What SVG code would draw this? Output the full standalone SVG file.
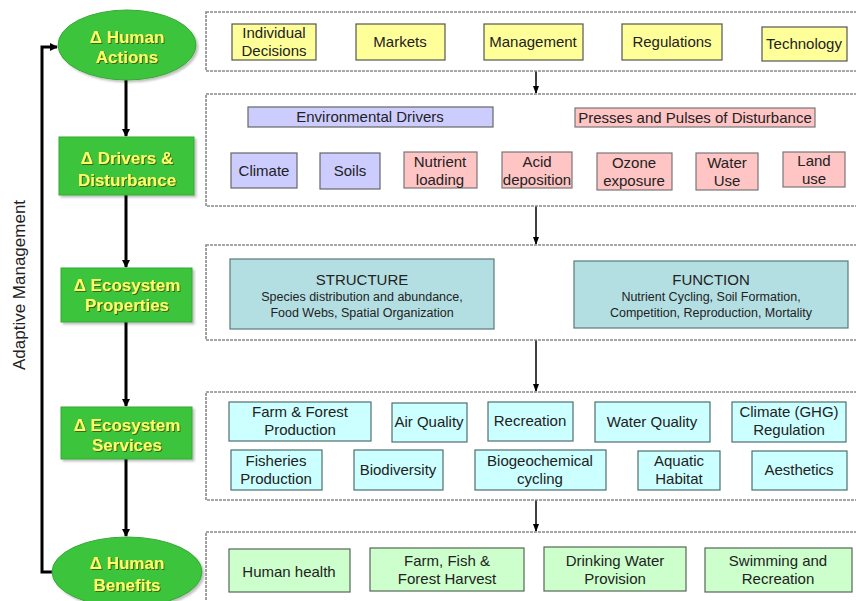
<svg xmlns="http://www.w3.org/2000/svg" width="856" height="601" viewBox="0 0 856 601">
<defs>
<marker id="ah" markerWidth="8" markerHeight="8" refX="7" refY="4" orient="auto" markerUnits="userSpaceOnUse"><path d="M0,0 L8,4 L0,8 Z" fill="#000"/></marker>
<marker id="ahs" markerWidth="8" markerHeight="8" refX="7" refY="4" orient="auto" markerUnits="userSpaceOnUse"><path d="M0,1 L8,4 L0,7 Z" fill="#000"/></marker>
<filter id="ts" x="-10%" y="-10%" width="130%" height="140%"><feDropShadow dx="1" dy="1" stdDeviation="0.4" flood-color="#3a5a10" flood-opacity="0.9"/></filter>
<filter id="bs" x="-5%" y="-5%" width="115%" height="120%"><feDropShadow dx="2" dy="2" stdDeviation="1" flood-color="#000" flood-opacity="0.25"/></filter>
</defs>
<style>
text{font-family:"Liberation Sans",Arial,sans-serif;text-anchor:middle;fill:#222}
.lt{font-size:17px;font-weight:bold;fill:#ffff66}
.g{fill:#3ec43e;stroke:#35a835;stroke-width:1}
.panel{fill:#fff;stroke:#8a8a8a;stroke-width:1.6;stroke-dasharray:3 1}
.y{fill:#ffff99;stroke:#555;stroke-width:1.2}
.lv{fill:#ccccff;stroke:#666;stroke-width:1.2}
.pk{fill:#ffc4c4;stroke:#777;stroke-width:1.2}
.tl{fill:#b4dfe2;stroke:#5a7a7a;stroke-width:1.2}
.cy{fill:#ccffff;stroke:#4f6f6f;stroke-width:1.2}
.lg{fill:#ccffcc;stroke:#556655;stroke-width:1.2}
.t{font-size:15px}
.s{font-size:12.5px}
.thick{stroke:#000;stroke-width:3;fill:none}
.thin{stroke:#000;stroke-width:1.5;fill:none}
</style>
<rect width="856" height="601" fill="#fff"/>

<g id="connectors">
<line class="thick" x1="126" y1="80" x2="126" y2="136" marker-end="url(#ah)"/>
<line class="thick" x1="126" y1="195" x2="126" y2="267" marker-end="url(#ah)"/>
<line class="thick" x1="126" y1="322" x2="126" y2="406" marker-end="url(#ah)"/>
<line class="thick" x1="126" y1="459" x2="126" y2="536" marker-end="url(#ah)"/>
<polyline class="thick" points="53,572 42,572 42,47 57,47" marker-end="url(#ah)"/>
<line class="thin" x1="536" y1="71" x2="536" y2="93" marker-end="url(#ahs)"/>
<line class="thin" x1="536" y1="206" x2="536" y2="244" marker-end="url(#ahs)"/>
<line class="thin" x1="536" y1="340" x2="536" y2="391" marker-end="url(#ahs)"/>
<line class="thin" x1="536" y1="500" x2="536" y2="531" marker-end="url(#ahs)"/>
</g>

<text x="25" y="285" transform="rotate(-90 25 285)" style="font-size:17px">Adaptive Management</text>

<g id="n-human-actions">
<ellipse class="g" cx="127" cy="45" rx="69" ry="35" filter="url(#bs)"/>
<text class="lt" x="127" y="43" filter="url(#ts)">Δ Human</text>
<text class="lt" x="127" y="63" filter="url(#ts)">Actions</text>
</g>
<g id="n-drivers">
<rect class="g" x="59" y="137" width="135" height="58" filter="url(#bs)"/>
<text class="lt" x="127" y="164" filter="url(#ts)">Δ Drivers &amp;</text>
<text class="lt" x="127" y="186" filter="url(#ts)">Disturbance</text>
</g>
<g id="n-properties">
<rect class="g" x="61" y="268" width="131" height="54" filter="url(#bs)"/>
<text class="lt" x="127" y="291" filter="url(#ts)">Δ Ecosystem</text>
<text class="lt" x="127" y="311" filter="url(#ts)">Properties</text>
</g>
<g id="n-services">
<rect class="g" x="61" y="407" width="131" height="52" filter="url(#bs)"/>
<text class="lt" x="127" y="431" filter="url(#ts)">Δ Ecosystem</text>
<text class="lt" x="127" y="451" filter="url(#ts)">Services</text>
</g>
<g id="n-human-benefits">
<ellipse class="g" cx="127" cy="572" rx="75" ry="35" filter="url(#bs)"/>
<text class="lt" x="127" y="569" filter="url(#ts)">Δ Human</text>
<text class="lt" x="127" y="591" filter="url(#ts)">Benefits</text>
</g>

<g id="p-actions">
<rect class="panel" x="206" y="12" width="670" height="59"/>
<g id="b-individual"><rect class="y" x="232" y="24" width="84" height="36"/><text class="t" x="274" y="38">Individual</text><text class="t" x="274" y="56">Decisions</text></g>
<g id="b-markets"><rect class="y" x="356" y="24" width="89" height="36"/><text class="t" x="400" y="47">Markets</text></g>
<g id="b-management"><rect class="y" x="484" y="24" width="99" height="36"/><text class="t" x="533" y="47">Management</text></g>
<g id="b-regulations"><rect class="y" x="622" y="24" width="100" height="36"/><text class="t" x="672" y="47">Regulations</text></g>
<g id="b-technology"><rect class="y" x="762" y="27" width="85" height="34"/><text class="t" x="804" y="49">Technology</text></g>
</g>

<g id="p-drivers">
<rect class="panel" x="206" y="94" width="670" height="112"/>
<g id="b-envdrivers"><rect class="lv" x="248" y="107" width="245" height="20"/><text class="t" x="370" y="122">Environmental  Drivers</text></g>
<g id="b-presses"><rect class="pk" x="575" y="108" width="240" height="19"/><text class="t" x="695" y="123">Presses and Pulses of Disturbance</text></g>
<g id="b-climate"><rect class="lv" x="231" y="153" width="66" height="35"/><text class="t" x="264" y="176">Climate</text></g>
<g id="b-soils"><rect class="lv" x="320" y="153" width="60" height="36"/><text class="t" x="350" y="176">Soils</text></g>
<g id="b-nutrient"><rect class="pk" x="404" y="152" width="73" height="36"/><text class="t" x="440" y="167">Nutrient</text><text class="t" x="440" y="185">loading</text></g>
<g id="b-acid"><rect class="pk" x="502" y="152" width="70" height="36"/><text class="t" x="537" y="167">Acid</text><text class="t" x="537" y="185">deposition</text></g>
<g id="b-ozone"><rect class="pk" x="597" y="153" width="75" height="37"/><text class="t" x="634" y="168">Ozone</text><text class="t" x="634" y="186">exposure</text></g>
<g id="b-water"><rect class="pk" x="696" y="153" width="62" height="37"/><text class="t" x="727" y="168">Water</text><text class="t" x="727" y="186">Use</text></g>
<g id="b-land"><rect class="pk" x="783" y="152" width="62" height="35"/><text class="t" x="814" y="166">Land</text><text class="t" x="814" y="184">use</text></g>
</g>

<g id="p-properties">
<rect class="panel" x="206" y="245" width="670" height="95"/>
<g id="b-structure"><rect class="tl" x="230" y="259" width="264" height="70"/><text x="362" y="285" style="font-size:15px">STRUCTURE</text><text class="s" x="362" y="301">Species distribution and abundance,</text><text class="s" x="362" y="317">Food Webs, Spatial Organization</text></g>
<g id="b-function"><rect class="tl" x="574" y="261" width="274" height="67"/><text x="711" y="285" style="font-size:15px">FUNCTION</text><text class="s" x="711" y="301">Nutrient Cycling, Soil Formation,</text><text class="s" x="711" y="317">Competition, Reproduction, Mortality</text></g>
</g>

<g id="p-services">
<rect class="panel" x="206" y="392" width="670" height="108"/>
<g id="b-farmforest"><rect class="cy" x="229" y="402" width="142" height="39"/><text class="t" x="300" y="417">Farm &amp; Forest</text><text class="t" x="300" y="435">Production</text></g>
<g id="b-air"><rect class="cy" x="392" y="403" width="75" height="39"/><text class="t" x="429" y="427">Air Quality</text></g>
<g id="b-recreation"><rect class="cy" x="488" y="402" width="85" height="39"/><text class="t" x="530" y="426">Recreation</text></g>
<g id="b-waterq"><rect class="cy" x="595" y="402" width="115" height="40"/><text class="t" x="652" y="427">Water Quality</text></g>
<g id="b-ghg"><rect class="cy" x="732" y="402" width="114" height="40"/><text class="t" x="789" y="417">Climate (GHG)</text><text class="t" x="789" y="435">Regulation</text></g>
<g id="b-fisheries"><rect class="cy" x="231" y="450" width="91" height="40"/><text class="t" x="276" y="466">Fisheries</text><text class="t" x="276" y="484">Production</text></g>
<g id="b-biodiv"><rect class="cy" x="354" y="450" width="89" height="40"/><text class="t" x="398" y="475">Biodiversity</text></g>
<g id="b-biogeo"><rect class="cy" x="475" y="450" width="131" height="40"/><text class="t" x="540" y="466">Biogeochemical</text><text class="t" x="540" y="484">cycling</text></g>
<g id="b-aquatic"><rect class="cy" x="638" y="451" width="82" height="39"/><text class="t" x="679" y="466">Aquatic</text><text class="t" x="679" y="484">Habitat</text></g>
<g id="b-aesthetics"><rect class="cy" x="752" y="451" width="95" height="39"/><text class="t" x="799" y="475">Aesthetics</text></g>
</g>

<g id="p-benefits">
<rect class="panel" x="206" y="532" width="670" height="90"/>
<g id="b-health"><rect class="lg" x="229" y="549" width="121" height="43"/><text class="t" x="289" y="577">Human health</text></g>
<g id="b-harvest"><rect class="lg" x="370" y="548" width="154" height="43"/><text class="t" x="447" y="566">Farm, Fish &amp;</text><text class="t" x="447" y="584">Forest Harvest</text></g>
<g id="b-drinking"><rect class="lg" x="544" y="547" width="142" height="44"/><text class="t" x="615" y="566">Drinking Water</text><text class="t" x="615" y="584">Provision</text></g>
<g id="b-swimming"><rect class="lg" x="705" y="548" width="147" height="44"/><text class="t" x="778" y="566">Swimming and</text><text class="t" x="778" y="584">Recreation</text></g>
</g>
</svg>
